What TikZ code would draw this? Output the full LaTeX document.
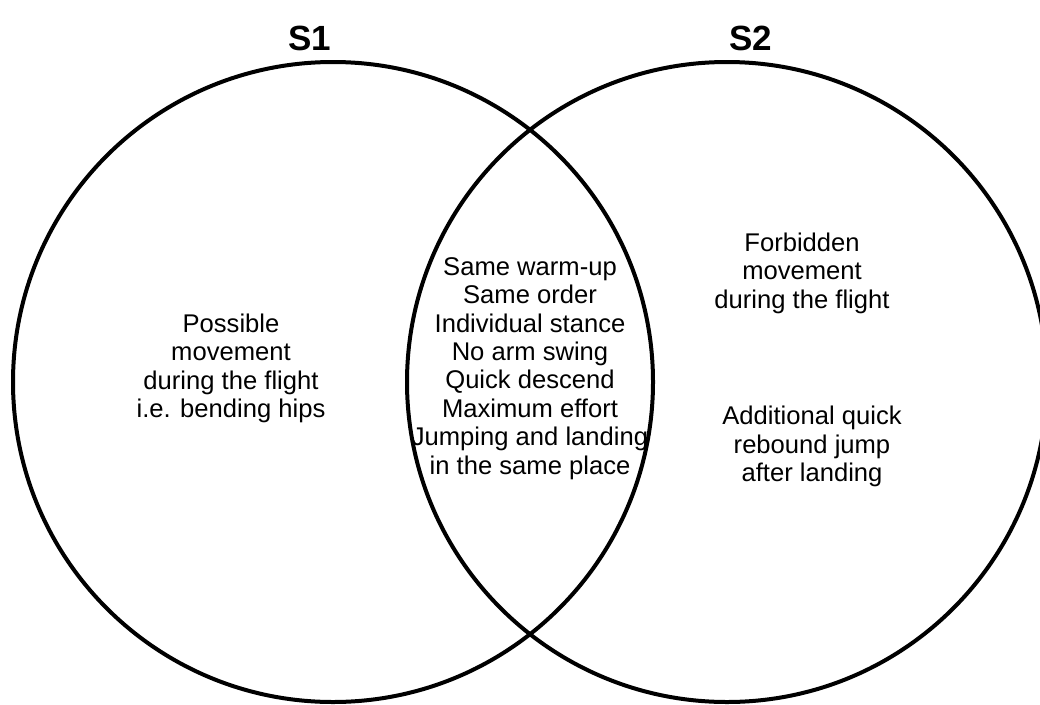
\documentclass[tikz,border=0pt]{standalone}
\usepackage{fontspec}
\setmainfont{Liberation Sans}
\begin{document}
\begin{tikzpicture}[x=1pt,y=-1pt,
  ring/.style={draw=black,line width=4pt},
  title/.style={font=\fontsize{35}{38}\selectfont\bfseries,inner sep=0pt,anchor=base},
  body/.style={font=\fontsize{25.6}{28.4}\selectfont,align=center,inner sep=0pt,anchor=base}]
\useasboundingbox (0,0) rectangle (1040,704);
\clip (0,0) rectangle (1040,704);
\fill[white] (0,0) rectangle (1040,704);
\draw[ring] (333,382) circle[radius=320];
\draw[ring] (727,382) circle[radius=320];
\node[title] (s1) at (310,50) {S1};
\node[title] (s2) at (751,50) {S2};
\node[body] (left) at (231,417.5) {Possible\\movement\\during the flight\\i.e. bending hips};
\node[body] (mid) at (530,474) {Same warm-up\\Same order\\Individual stance\\No arm swing\\Quick descend\\Maximum effort\\Jumping and landing\\in the same place};
\node[body] (rtop) at (802,308) {Forbidden\\movement\\during the flight};
\node[body] (rbot) at (812,481.7) {Additional quick\\rebound jump\\after landing};
\end{tikzpicture}
\end{document}
